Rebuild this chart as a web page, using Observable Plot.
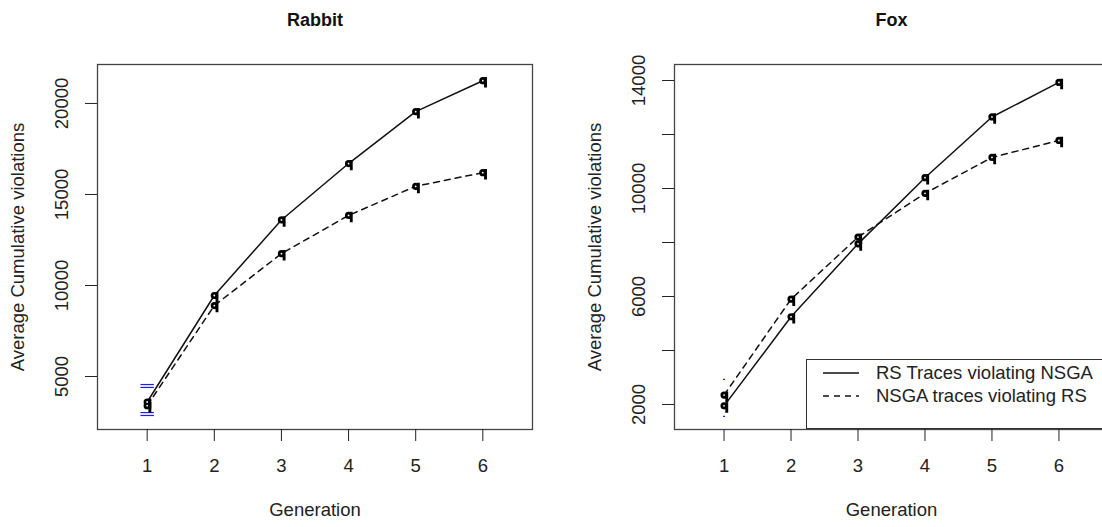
<!DOCTYPE html>
<html>
<head>
<meta charset="utf-8">
<script src="https://cdn.jsdelivr.net/npm/d3@7"></script>
<script src="https://cdn.jsdelivr.net/npm/@observablehq/plot@0.6"></script>
<style>
  html, body { margin: 0; padding: 0; background: #fff; }
  #wrap { position: relative; width: 1102px; height: 527px; overflow: hidden; font-family: "Liberation Sans", Arial, sans-serif; }
  #left, #right { position: absolute; top: 0; }
  #left { left: 0; width: 551px; }
  #right { left: 551px; width: 557px; }
  #wrap svg { max-width: none !important; }
  #legend { position: absolute; left: 806px; top: 359px; width: 330px; height: 68px; border: 1px solid #333; background: #fff; font-size: 18.5px; color: #222; }
  .row { position: absolute; left: 0; height: 22px; display: flex; align-items: center; white-space: nowrap; }
  .row svg { margin-left: 16px; margin-right: 17px; }
</style>
</head>
<body>
<div id="wrap">
  <div id="left"></div>
  <div id="right"></div>
  <div id="legend">
    <div class="row" style="top:2px"><svg width="36" height="4"><line x1="0" x2="36" y1="2" y2="2" stroke="#111" stroke-width="1.3"/></svg><span>RS Traces violating NSGA</span></div>
    <div class="row" style="top:25px"><svg width="36" height="4"><line x1="0" x2="36" y1="2" y2="2" stroke="#111" stroke-width="1.3" stroke-dasharray="6,5"/></svg><span>NSGA traces violating RS</span></div>
  </div>
</div>
<script>
const generations = [1, 2, 3, 4, 5, 6];

// Rabbit panel
const rabbitRS   = [3600, 9450, 13600, 16700, 19550, 21250];
const rabbitNSGA = [3400, 8900, 11750, 13850, 15450, 16200];
const rabbitTicks = [5000, 10000, 15000, 20000];
// error-bar caps (generation, value)
const rabbitErrGen = [1, 1, 1, 1];
const rabbitErrVal = [4560, 4400, 3020, 2860];

// Fox panel
const foxRS   = [1950, 5250, 7950, 10400, 12650, 13930];
const foxNSGA = [2350, 5900, 8200, 9820, 11150, 11780];
const foxTicks = [2000, 4000, 6000, 8000, 10000, 12000, 14000];
const foxTickLabels = ["2000", "", "6000", "", "10000", "", "14000"];
const foxErrGen = [1, 1];
const foxErrVal = [2930, 1560];

const seriesNames = ["RS Traces violating NSGA", "NSGA traces violating RS"];
const FONT = "Liberation Sans, Arial, sans-serif";
const FS = 18.5;

// "q"-like marker: a filled bowl with a stem on its right
const qSymbol = {
  draw(ctx, size) {
    const r = Math.sqrt(size / Math.PI);
    ctx.moveTo(r, 0);
    ctx.arc(0, 0, r, 0, 2 * Math.PI);
    ctx.moveTo(r * 0.35, -r);
    ctx.lineTo(r * 1.15, -r);
    ctx.lineTo(r * 1.15, r * 1.9);
    ctx.lineTo(r * 0.35, r * 1.9);
    ctx.closePath();
  }
};

function rows(a, b) {
  const out = [];
  generations.forEach((g, i) => {
    out.push({gen: g, value: a[i], series: seriesNames[0]});
    out.push({gen: g, value: b[i], series: seriesNames[1]});
  });
  return out;
}

function panel({title, rs, nsga, ticks, tickLabels, yDomain, errGen, errVal, errHalf, width, marginLeft, marginRight}) {
  const data = rows(rs, nsga);
  const solid = data.filter(d => d.series === seriesNames[0]);
  const dashed = data.filter(d => d.series === seriesNames[1]);
  const errs = errGen.map((g, i) => ({gen: g, value: errVal[i]}));
  const labels = ticks.map((t, i) => ({t, label: tickLabels ? tickLabels[i] : String(t)}));
  return Plot.plot({
    width, height: 527,
    marginLeft, marginRight, marginTop: 64, marginBottom: 98,
    style: {fontFamily: FONT, fontSize: FS + "px", color: "#222", background: "#fff"},
    x: {domain: [0.26, 6.74]},
    y: {domain: yDomain},
    marks: [
      Plot.frame({stroke: "#444", strokeWidth: 1.3}),
      Plot.axisX({ticks: generations, tickSize: 12, tickPadding: 17, fontSize: FS, tickFormat: d => String(d), label: null, stroke: "#222"}),
      Plot.axisY({ticks, tickSize: 12, tickFormat: () => "", label: null, stroke: "#222"}),
      Plot.text(labels, {y: "t", text: "label", frameAnchor: "left", textAnchor: "middle", lineAnchor: "middle", dx: -35, rotate: -90, fontSize: FS, fill: "#222"}),
      Plot.text([title], {text: d => d, frameAnchor: "top", textAnchor: "middle", lineAnchor: "middle", dy: -44, fontWeight: "bold", fontSize: 18, fill: "#111"}),
      Plot.text(["Average Cumulative violations"], {text: d => d, frameAnchor: "left", textAnchor: "middle", lineAnchor: "middle", dx: -79, rotate: -90, fontSize: FS, fill: "#222"}),
      Plot.text(["Generation"], {text: d => d, frameAnchor: "bottom", textAnchor: "middle", lineAnchor: "middle", dy: 81, fontSize: FS, fill: "#222"}),
      Plot.link(errs, {x1: d => d.gen - errHalf, x2: d => d.gen + errHalf, y1: "value", y2: "value", stroke: "#1a1aff", strokeWidth: 1.2}),
      Plot.line(solid, {x: "gen", y: "value", stroke: "#111", strokeWidth: 1.5}),
      Plot.line(dashed, {x: "gen", y: "value", stroke: "#111", strokeWidth: 1.5, strokeDasharray: "6,5"}),
      Plot.dot(data, {x: "gen", y: "value", symbol: qSymbol, r: 3.6, fill: "#000", stroke: "none"}),
      Plot.dot(data, {x: "gen", y: "value", r: 0.9, fill: "#fff", stroke: "none"})
    ]
  });
}

document.getElementById("left").appendChild(panel({
  title: "Rabbit", rs: rabbitRS, nsga: rabbitNSGA, ticks: rabbitTicks, tickLabels: null,
  yDomain: [2090, 22140], errGen: rabbitErrGen, errVal: rabbitErrVal, errHalf: 0.1,
  width: 551, marginLeft: 97, marginRight: 19
}));
document.getElementById("right").appendChild(panel({
  title: "Fox", rs: foxRS, nsga: foxNSGA, ticks: foxTicks, tickLabels: foxTickLabels,
  yDomain: [1074, 14593], errGen: foxErrGen, errVal: foxErrVal, errHalf: 0.015,
  width: 557, marginLeft: 123, marginRight: 0
}));
</script>
</body>
</html>
